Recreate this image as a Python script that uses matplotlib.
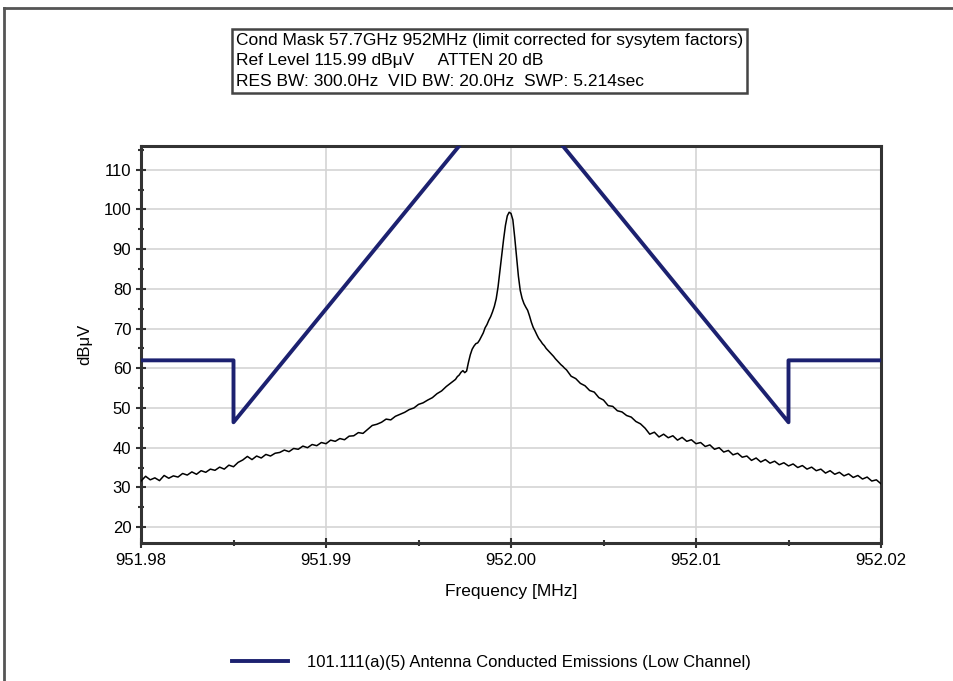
import numpy as np
import matplotlib
matplotlib.use('Agg')
import matplotlib.pyplot as plt
from matplotlib.lines import Line2D
from matplotlib.ticker import MultipleLocator, FormatStrFormatter

plt.rcParams['font.family'] = ['Liberation Sans', 'DejaVu Sans']

# Trace: offset from 952 MHz in kHz, level in dBuV
offset_left = np.arange(-20.0, -3.0, 0.25)
level_left = [31.6, 32.8, 31.9, 32.4, 31.7, 33.0, 32.3, 32.9, 32.6, 33.5,
              33.1, 33.9, 33.3, 34.2, 33.8, 34.6, 34.3, 35.1, 34.6, 35.6,
              35.2, 36.3, 36.9, 37.8, 37.0, 37.9, 37.4, 38.3, 37.9, 38.6,
              38.8, 39.4, 39.0, 39.8, 39.6, 40.4, 40.0, 40.8, 40.5, 41.3,
              41.0, 41.9, 41.6, 42.3, 42.0, 42.9, 43.0, 43.8, 43.6, 44.6,
              45.6, 45.9, 46.4, 47.2, 47.0, 47.9, 48.4, 48.9, 49.6, 50.0,
              50.9, 51.3, 52.0, 52.6, 53.6, 54.3, 55.4, 56.3]

offset_mid = np.round(np.arange(-3.0, 3.05, 0.1), 2)
level_mid = [57.2, 57.9, 58.3, 59.0, 59.4, 58.9, 59.3, 61.5, 63.4, 64.8,
             65.6, 66.2, 66.4, 67.1, 68.0, 68.9, 70.2, 71.0, 72.1, 73.0,
             74.2, 75.6, 77.5, 80.5, 84.5, 88.5, 92.5, 96.0, 98.4, 99.3,
             99.0, 97.4, 93.0, 88.0, 83.2, 79.6, 77.6, 76.3, 75.4, 74.6,
             73.2, 71.6, 70.3, 69.4, 68.4, 67.5, 66.9, 66.2, 65.7, 65.0,
             64.5, 64.0, 63.5, 63.0, 62.4, 61.9, 61.4, 60.9, 60.5, 60.0,
             59.6]

offset_right = np.arange(3.25, 20.01, 0.25)
level_right = [58.0, 57.4, 56.2, 55.6, 54.4, 54.0, 52.6, 52.0, 50.6, 50.4,
               49.3, 49.0, 48.1, 47.7, 46.6, 46.0, 44.9, 43.4, 43.9, 42.7,
               43.4, 42.5, 43.0, 41.9, 42.6, 41.6, 42.0, 41.0, 41.3, 40.3,
               40.7, 39.6, 40.0, 38.9, 39.3, 38.2, 38.6, 37.6, 37.9, 36.8,
               37.4, 36.4, 37.0, 36.1, 36.6, 35.7, 36.2, 35.4, 35.9, 35.0,
               35.5, 34.6, 35.1, 34.2, 34.6, 33.6, 34.2, 33.3, 33.8, 32.9,
               33.4, 32.5, 33.0, 32.1, 32.6, 31.6, 31.9, 30.9]

trace_freq = 952.0 + np.concatenate([offset_left, offset_mid, offset_right]) / 1000.0
trace_level = np.array(level_left + level_mid + level_right)

# Limit mask
mask_freq = [951.98, 951.985, 951.985, 952.0, 952.015, 952.015, 952.02]
mask_level = [62.0, 62.0, 46.4, 132.0, 46.4, 62.0, 62.0]

header = ["Cond Mask 57.7GHz 952MHz (limit corrected for sysytem factors)",
          "Ref Level 115.99 dB\u03bcV     ATTEN 20 dB",
          "RES BW: 300.0Hz  VID BW: 20.0Hz  SWP: 5.214sec"]
legend_label = "101.111(a)(5) Antenna Conducted Emissions (Low Channel)"

fig = plt.figure(figsize=(9.54, 6.81), dpi=100)
ax = fig.add_axes([141/954, 1 - 543/681, 740/954, 397/681])

ax.plot(trace_freq, trace_level, color='black', lw=1.1, zorder=3)
mask_line, = ax.plot(mask_freq, mask_level, color='#1c2170', lw=2.8, zorder=4)

ax.set_xlim(951.98, 952.02)
ax.set_ylim(15.99, 115.99)
ax.xaxis.set_major_locator(MultipleLocator(0.01))
ax.xaxis.set_minor_locator(MultipleLocator(0.005))
ax.xaxis.set_major_formatter(FormatStrFormatter('%.2f'))
ax.yaxis.set_major_locator(MultipleLocator(10))
ax.yaxis.set_minor_locator(MultipleLocator(5))
ax.grid(True, which='major', color='#d4d4d4', lw=1.2)
ax.set_axisbelow(True)
ax.tick_params(which='both', direction='inout', color='#333333', labelsize=12)
ax.tick_params(which='major', length=7, width=1.5)
ax.tick_params(which='minor', length=5, width=1.5)
for s in ax.spines.values():
    s.set_linewidth(2.2)
    s.set_color('#333333')

ax.set_xlabel('Frequency [MHz]', fontsize=12.5, labelpad=12)
ax.set_ylabel('dB\u03bcV', fontsize=12, labelpad=8)

# header box
fig.text(236/954, 1 - 33/681, "\n".join(header), fontsize=12.5, va='top', ha='left',
         linespacing=1.45,
         bbox=dict(boxstyle='square,pad=0.25', fc='white', ec='#444444', lw=1.8))

# legend below the plot
fig.legend([mask_line], [legend_label], loc='center', bbox_to_anchor=(0.5 + 14/954, 1 - 662/681),
           frameon=False, fontsize=12, handlelength=3.4, handletextpad=1.1)

# outer border (top and left)
fig.add_artist(Line2D([4/954, 1.0], [1 - 8/681, 1 - 8/681], color='#555555', lw=2))
fig.add_artist(Line2D([4/954, 4/954], [0.0, 1 - 8/681], color='#555555', lw=2))

fig.savefig('out.png', dpi=100)
